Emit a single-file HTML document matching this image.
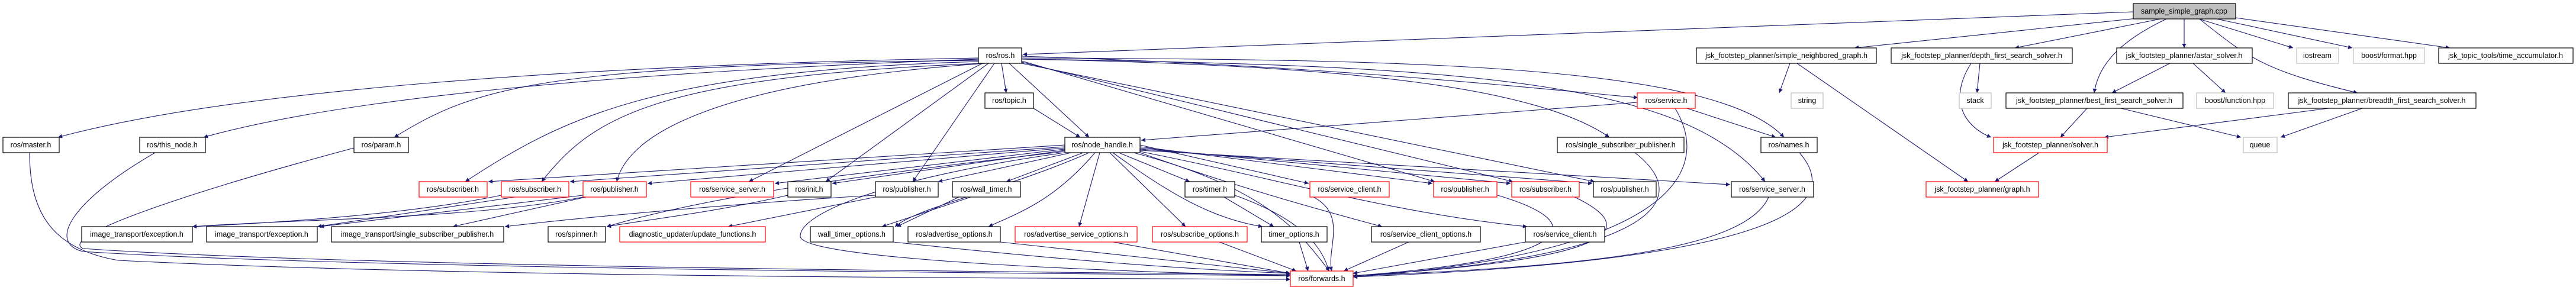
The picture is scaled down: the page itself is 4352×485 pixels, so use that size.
<!DOCTYPE html>
<html><head><meta charset="utf-8"><style>
html,body{margin:0;padding:0;background:#fff;width:4352px;height:485px;overflow:hidden}
svg text{font-family:"Liberation Sans",sans-serif;font-size:12.5px;fill:#000}
.e{fill:none;stroke:#191970;stroke-width:1.1;marker-end:url(#a)}
.b{fill:#fff;stroke:#000;stroke-width:1.2}
.r{fill:#fff;stroke:#ff0000;stroke-width:1.2}
.g{fill:#fff;stroke:#bfbfbf;stroke-width:1.2}
.s{fill:#bfbfbf;stroke:#000;stroke-width:1.2}
</style></head><body>
<svg width="4352" height="485" viewBox="0 0 4352 485" xmlns="http://www.w3.org/2000/svg">
<defs><marker id="a" viewBox="0 0 10 10" refX="10" refY="5" markerWidth="9" markerHeight="7" orient="auto" markerUnits="userSpaceOnUse"><path d="M0,0 L10,5 L0,10 z" fill="#191970"/></marker></defs>
<g>
<!-- from sample cpp -->
<path class="e" d="M3604,20 L1728,92"/>
<path class="e" d="M3620,30 L3133,81"/>
<path class="e" d="M3650,32 L3404,81"/>
<path class="e" d="M3660,32 C3580,70 3545,110 3538,157"/>
<path class="e" d="M3690,32 L3690,81"/>
<path class="e" d="M3715,32 L3874,81"/>
<path class="e" d="M3745,32 L3974,81"/>
<path class="e" d="M3777,30 L4139,81"/>
<path class="e" d="M3716,32 C3800,100 3830,120 3983,157"/>
<path class="e" d="M3024,107 L3006,157"/>
<path class="e" d="M3036,107 L3325,307"/>
<path class="e" d="M3345,107 L3340,157"/>
<path class="e" d="M3330,107 C3290,170 3320,215 3364,232"/>
<path class="e" d="M3666,107 L3568,157"/>
<path class="e" d="M3705,107 L3760,157"/>
<path class="e" d="M3526,183 L3481,232"/>
<path class="e" d="M3583,183 L3786,232"/>
<path class="e" d="M3934,183 L3555,232"/>
<path class="e" d="M3991,183 L3853,232"/>
<path class="e" d="M3445,258 L3370,307"/>
<!-- ros.h -->
<path class="e" d="M1653,98 C1000,110 400,150 98,232"/>
<path class="e" d="M1653,100 C1100,120 600,160 344,232"/>
<path class="e" d="M1655,102 C900,110 800,150 666,232"/>
<path class="e" d="M1655,104 C1100,120 950,200 786,307"/>
<path class="e" d="M1660,107 C1100,130 1000,200 915,307"/>
<path class="e" d="M1665,107 C1200,140 1060,230 1042,307"/>
<path class="e" d="M1660,107 L1265,307"/>
<path class="e" d="M1670,107 L1395,307"/>
<path class="e" d="M1680,107 L1542,307"/>
<path class="e" d="M1692,107 L1700,157"/>
<path class="e" d="M1705,107 L1840,232"/>
<path class="e" d="M1726,95 C2200,110 2500,140 2767,165"/>
<path class="e" d="M1726,100 C2300,110 2600,150 2719,232"/>
<path class="e" d="M1726,98 C2400,100 2900,110 3014,232"/>
<path class="e" d="M1726,100 C2500,110 2850,140 2982,307"/>
<path class="e" d="M1726,103 L2424,307"/>
<path class="e" d="M1726,105 L2556,307"/>
<path class="e" d="M1726,107 L2694,307"/>
<path class="e" d="M1728,93 L1728,93"/>
<path class="e" d="M1746,183 L1825,232"/>
<path class="e" d="M2766,173 L1928,237"/>
<path class="e" d="M2850,183 L3000,232"/>
<!-- node_handle -->
<path class="e" d="M1799,245 L825,307"/>
<path class="e" d="M1799,248 L963,307"/>
<path class="e" d="M1799,250 L1094,310"/>
<path class="e" d="M1799,252 L1309,310"/>
<path class="e" d="M1799,254 L1406,310"/>
<path class="e" d="M1810,258 L1585,307"/>
<path class="e" d="M1830,258 L1700,307"/>
<path class="e" d="M1890,258 L2010,307"/>
<path class="e" d="M1926,245 L2211,310"/>
<path class="e" d="M1926,248 L2420,310"/>
<path class="e" d="M1926,250 L2552,310"/>
<path class="e" d="M1926,252 L2690,310"/>
<path class="e" d="M1926,254 L2923,312"/>
<path class="e" d="M1799,256 C1500,290 1200,330 1025,383"/>
<path class="e" d="M1840,258 C1700,320 1550,350 1512,383"/>
<path class="e" d="M1850,258 C1780,340 1720,360 1670,383"/>
<path class="e" d="M1858,258 L1823,383"/>
<path class="e" d="M1875,258 L2003,383"/>
<path class="e" d="M1880,258 C1980,330 2050,370 2133,383"/>
<path class="e" d="M1926,258 C2100,320 2250,360 2335,383"/>
<path class="e" d="M1926,256 C2150,300 2350,360 2580,383"/>
<path class="e" d="M1915,258 C2150,320 2200,400 2246,458"/>
<path class="e" d="M1799,258 C1500,300 1350,360 1352,400 C1360,440 1900,460 2180,466"/>
<!-- row5 -> row6 -->
<path class="e" d="M847,330 C700,360 500,375 325,383"/>
<path class="e" d="M870,333 L536,383"/>
<path class="e" d="M985,333 C800,370 500,370 325,383"/>
<path class="e" d="M985,330 L540,383"/>
<path class="e" d="M990,333 L765,383"/>
<path class="e" d="M1331,330 C1200,360 1100,370 1025,383"/>
<path class="e" d="M1479,333 L1230,383"/>
<path class="e" d="M1479,330 C1300,340 1000,365 853,383"/>
<path class="e" d="M1640,333 L1490,383"/>
<path class="e" d="M1620,333 L1515,383"/>
<path class="e" d="M2068,333 L2152,383"/>
<path class="e" d="M2086,330 C2170,360 2230,400 2245,458"/>
<!-- to forwards -->
<path class="e" d="M50,258 C50,350 80,420 200,440 C800,470 1800,470 2180,472"/>
<path class="e" d="M262,258 C120,340 80,410 140,425 C600,455 1800,462 2180,466"/>
<path class="e" d="M598,250 C300,330 100,400 140,420 C600,452 1800,460 2180,464"/>
<path class="e" d="M1509,409 C1800,440 2000,455 2180,462"/>
<path class="e" d="M1690,409 L2180,462"/>
<path class="e" d="M1880,409 L2180,462"/>
<path class="e" d="M2060,409 L2190,458"/>
<path class="e" d="M2195,409 L2210,458"/>
<path class="e" d="M2380,409 L2270,458"/>
<path class="e" d="M2577,409 L2286,462"/>
<path class="e" d="M2530,330 C2700,380 2650,440 2286,466"/>
<path class="e" d="M2660,333 C2780,390 2720,440 2286,466"/>
<path class="e" d="M2830,183 C2900,300 2800,430 2286,468"/>
<path class="e" d="M2762,258 C2880,350 2750,440 2286,466"/>
<path class="e" d="M3040,258 C3120,350 3000,440 2286,468"/>
<path class="e" d="M2988,333 C2950,420 2700,450 2286,466"/>
<path class="e" d="M2213,330 C2280,360 2240,420 2250,458"/>
</g>
<g>
<rect class="s" x="3604" y="6" width="173" height="26"/><text x="3690" y="23" text-anchor="middle">sample_simple_graph.cpp</text>
<rect class="b" x="1653" y="81" width="73" height="26"/><text x="1690" y="98" text-anchor="middle">ros/ros.h</text>
<rect class="b" x="2866" y="81" width="304" height="26"/><text x="3018" y="98" text-anchor="middle">jsk_footstep_planner/simple_neighbored_graph.h</text>
<rect class="b" x="3195" y="81" width="306" height="26"/><text x="3348" y="98" text-anchor="middle">jsk_footstep_planner/depth_first_search_solver.h</text>
<rect class="b" x="3576" y="81" width="229" height="26"/><text x="3690" y="98" text-anchor="middle">jsk_footstep_planner/astar_solver.h</text>
<rect class="g" x="3880" y="81" width="71" height="26"/><text x="3915" y="98" text-anchor="middle">iostream</text>
<rect class="g" x="3976" y="81" width="120" height="26"/><text x="4036" y="98" text-anchor="middle">boost/format.hpp</text>
<rect class="b" x="4120" y="81" width="227" height="26"/><text x="4233" y="98" text-anchor="middle">jsk_topic_tools/time_accumulator.h</text>

<rect class="b" x="1664" y="157" width="82" height="26"/><text x="1705" y="174" text-anchor="middle">ros/topic.h</text>
<rect class="r" x="2766" y="157" width="98" height="26"/><text x="2815" y="174" text-anchor="middle">ros/service.h</text>
<rect class="g" x="3026" y="157" width="54" height="26"/><text x="3053" y="174" text-anchor="middle">string</text>
<rect class="g" x="3310" y="157" width="54" height="26"/><text x="3337" y="174" text-anchor="middle">stack</text>
<rect class="b" x="3389" y="157" width="299" height="26"/><text x="3538" y="174" text-anchor="middle">jsk_footstep_planner/best_first_search_solver.h</text>
<rect class="g" x="3711" y="157" width="130" height="26"/><text x="3776" y="174" text-anchor="middle">boost/function.hpp</text>
<rect class="b" x="3866" y="157" width="317" height="26"/><text x="4024" y="174" text-anchor="middle">jsk_footstep_planner/breadth_first_search_solver.h</text>

<rect class="b" x="5" y="232" width="95" height="26"/><text x="52" y="249" text-anchor="middle">ros/master.h</text>
<rect class="b" x="236" y="232" width="111" height="26"/><text x="291" y="249" text-anchor="middle">ros/this_node.h</text>
<rect class="b" x="598" y="232" width="92" height="26"/><text x="644" y="249" text-anchor="middle">ros/param.h</text>
<rect class="b" x="1799" y="232" width="127" height="26"/><text x="1862" y="249" text-anchor="middle">ros/node_handle.h</text>
<rect class="b" x="2631" y="232" width="214" height="26"/><text x="2738" y="249" text-anchor="middle">ros/single_subscriber_publisher.h</text>
<rect class="b" x="2975" y="232" width="95" height="26"/><text x="3022" y="249" text-anchor="middle">ros/names.h</text>
<rect class="r" x="3368" y="232" width="192" height="26"/><text x="3464" y="249" text-anchor="middle">jsk_footstep_planner/solver.h</text>
<rect class="g" x="3790" y="232" width="57" height="26"/><text x="3818" y="249" text-anchor="middle">queue</text>

<rect class="r" x="708" y="307" width="115" height="26"/><text x="765" y="324" text-anchor="middle">ros/subscriber.h</text>
<rect class="r" x="847" y="307" width="114" height="26"/><text x="904" y="324" text-anchor="middle">ros/subscriber.h</text>
<rect class="r" x="985" y="307" width="107" height="26"/><text x="1038" y="324" text-anchor="middle">ros/publisher.h</text>
<rect class="r" x="1167" y="307" width="140" height="26"/><text x="1237" y="324" text-anchor="middle">ros/service_server.h</text>
<rect class="b" x="1331" y="307" width="73" height="26"/><text x="1367" y="324" text-anchor="middle">ros/init.h</text>
<rect class="b" x="1479" y="307" width="106" height="26"/><text x="1532" y="324" text-anchor="middle">ros/publisher.h</text>
<rect class="b" x="1609" y="307" width="115" height="26"/><text x="1666" y="324" text-anchor="middle">ros/wall_timer.h</text>
<rect class="b" x="2002" y="307" width="84" height="26"/><text x="2044" y="324" text-anchor="middle">ros/timer.h</text>
<rect class="r" x="2213" y="307" width="134" height="26"/><text x="2280" y="324" text-anchor="middle">ros/service_client.h</text>
<rect class="r" x="2422" y="307" width="107" height="26"/><text x="2475" y="324" text-anchor="middle">ros/publisher.h</text>
<rect class="r" x="2554" y="307" width="114" height="26"/><text x="2611" y="324" text-anchor="middle">ros/subscriber.h</text>
<rect class="b" x="2692" y="307" width="106" height="26"/><text x="2745" y="324" text-anchor="middle">ros/publisher.h</text>
<rect class="b" x="2925" y="307" width="139" height="26"/><text x="2994" y="324" text-anchor="middle">ros/service_server.h</text>
<rect class="r" x="3254" y="307" width="190" height="26"/><text x="3349" y="324" text-anchor="middle">jsk_footstep_planner/graph.h</text>

<rect class="b" x="138" y="383" width="187" height="26"/><text x="231" y="400" text-anchor="middle">image_transport/exception.h</text>
<rect class="b" x="349" y="383" width="187" height="26"/><text x="442" y="400" text-anchor="middle">image_transport/exception.h</text>
<rect class="b" x="560" y="383" width="291" height="26"/><text x="705" y="400" text-anchor="middle">image_transport/single_subscriber_publisher.h</text>
<rect class="b" x="926" y="383" width="97" height="26"/><text x="974" y="400" text-anchor="middle">ros/spinner.h</text>
<rect class="r" x="1047" y="383" width="246" height="26"/><text x="1170" y="400" text-anchor="middle">diagnostic_updater/update_functions.h</text>
<rect class="b" x="1369" y="383" width="140" height="26"/><text x="1439" y="400" text-anchor="middle">wall_timer_options.h</text>
<rect class="b" x="1534" y="383" width="156" height="26"/><text x="1612" y="400" text-anchor="middle">ros/advertise_options.h</text>
<rect class="r" x="1715" y="383" width="206" height="26"/><text x="1818" y="400" text-anchor="middle">ros/advertise_service_options.h</text>
<rect class="r" x="1947" y="383" width="160" height="26"/><text x="2027" y="400" text-anchor="middle">ros/subscribe_options.h</text>
<rect class="b" x="2131" y="383" width="111" height="26"/><text x="2186" y="400" text-anchor="middle">timer_options.h</text>
<rect class="b" x="2317" y="383" width="184" height="26"/><text x="2409" y="400" text-anchor="middle">ros/service_client_options.h</text>
<rect class="b" x="2577" y="383" width="134" height="26"/><text x="2644" y="400" text-anchor="middle">ros/service_client.h</text>

<rect class="r" x="2180" y="458" width="106" height="26"/><text x="2233" y="475" text-anchor="middle">ros/forwards.h</text>
</g>
</svg>
</body></html>
